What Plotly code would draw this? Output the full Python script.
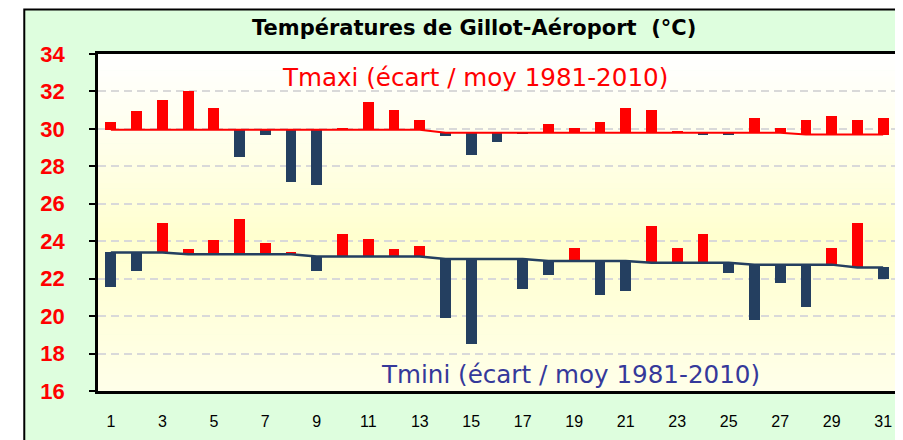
import plotly.graph_objects as go

days = list(range(1, 32))
tmax = [30.39, 30.93, 31.57, 32.0, 31.12, 28.52, 29.66, 27.15, 27.02, 30.05,
        31.46, 31.03, 30.48, 29.64, 28.63, 29.32, 29.73, 30.27, 30.05, 30.39,
        31.12, 31.02, 29.84, 29.66, 29.66, 30.59, 30.05, 30.48, 30.70, 30.48, 30.59]
norm_max = [29.95] * 13 + [29.8] * 14 + [29.7] * 4
tmin = [21.54, 22.40, 25.0, 23.61, 24.04, 25.21, 23.93, 23.45, 22.40, 24.36,
        24.14, 23.61, 23.72, 19.88, 18.49, 23.10, 21.43, 22.18, 23.66, 21.11,
        21.33, 24.79, 23.66, 24.36, 22.29, 19.78, 21.75, 20.47, 23.66, 25.0, 21.97]
norm_min = [23.4] * 3 + [23.3] * 5 + [23.18] * 5 + [23.05] * 4 + [22.95] * 4 + \
           [22.85] * 4 + [22.75] * 4 + [22.6] * 2
x_ticks = list(range(1, 32, 2))
y_ticks = list(range(16, 35, 2))

RED = "#FF0000"
BLUE = "#243F60"

def bar_colors(vals, norms):
    return [RED if v >= n else BLUE for v, n in zip(vals, norms)]

fig = go.Figure()
fig.add_bar(x=days, y=[v - n for v, n in zip(tmax, norm_max)], base=norm_max,
            width=0.42, marker=dict(color=bar_colors(tmax, norm_max), line_width=0),
            showlegend=False)
fig.add_bar(x=days, y=[v - n for v, n in zip(tmin, norm_min)], base=norm_min,
            width=0.42, marker=dict(color=bar_colors(tmin, norm_min), line_width=0),
            showlegend=False)
fig.add_scatter(x=days, y=norm_max, mode="lines", line=dict(color=RED, width=2),
                showlegend=False)
fig.add_scatter(x=days, y=norm_min, mode="lines", line=dict(color=BLUE, width=2.5),
                showlegend=False)

# page body has an 8px margin: lay out the figure shifted accordingly
OFF = 8
FW, FH = 903 - OFF, 440 - OFF
L, R, T, B = 98, 899, 54, 391
W, H = R - L, B - T

def px(x):
    return (x - L) / W

def py(y):
    return (B - y) / H

shapes = [dict(type="rect", xref="paper", yref="paper",
               x0=px(24), x1=px(912), y0=py(455), y1=py(9.5),
               fillcolor="#DEFEDE", line=dict(color="black", width=2), layer="below")]

# vertical gradient for plot area
stops = [(0.0, (255, 255, 234)), (0.45, (255, 255, 206)), (0.75, (255, 255, 236)), (1.0, (255, 255, 255))]
n = 60
for i in range(n):
    f = (i + 0.5) / n
    for j in range(len(stops) - 1):
        if stops[j][0] <= f <= stops[j + 1][0]:
            a, ca = stops[j]
            b, cb = stops[j + 1]
            t = (f - a) / (b - a)
            c = tuple(round(ca[k] + (cb[k] - ca[k]) * t) for k in range(3))
            break
    shapes.append(dict(type="rect", xref="paper", yref="paper", x0=0, x1=1,
                       y0=i / n, y1=(i + 1) / n + 0.002,
                       fillcolor="rgb(%d,%d,%d)" % c, line=dict(width=0), layer="below"))
# right shadow
shapes.append(dict(type="line", xref="paper", yref="paper", x0=px(901), x1=px(901),
                   y0=py(389), y1=py(56), line=dict(color="#888888", width=2)))

annotations = [
    dict(text="Températures de Gillot-Aéroport  (°C)", xref="paper", yref="paper",
         x=px(475), y=py(28), xanchor="center", yanchor="middle", showarrow=False,
         font=dict(family="DejaVu Sans", size=21, color="black", weight="bold")),
    dict(text="Tmaxi (écart / moy 1981-2010)", xref="paper", yref="paper",
         x=px(476), y=py(77), xanchor="center", yanchor="middle", showarrow=False,
         font=dict(family="DejaVu Sans", size=24.6, color=RED)),
    dict(text="Tmini (écart / moy 1981-2010)", xref="paper", yref="paper",
         x=px(572), y=py(374), xanchor="center", yanchor="middle", showarrow=False,
         font=dict(family="DejaVu Sans", size=24.6, color="#35399A")),
]

fig.update_layout(
    width=FW, height=FH,
    margin=dict(l=L - OFF, r=903 - R, t=T - OFF, b=440 - B),
    paper_bgcolor="white", plot_bgcolor="rgba(0,0,0,0)",
    barmode="overlay", bargap=0,
    shapes=shapes, annotations=annotations,
    xaxis=dict(range=[0.5, 31.5], tickvals=x_ticks, ticktext=[str(v) for v in x_ticks],
               showgrid=False, zeroline=False, showline=True, linecolor="black",
               linewidth=2.5, mirror=True, ticks="", ticklabelstandoff=14,
               tickfont=dict(family="Liberation Sans", size=16, color="black")),
    yaxis=dict(range=[16, 34], tickvals=y_ticks, showgrid=True, gridcolor="#D9D9D9",
               gridwidth=2, griddash="8px,5px", zeroline=False, showline=True,
               linecolor="black", linewidth=2.5, mirror=True, ticks="outside",
               ticklen=6, tickwidth=2, tickcolor="black", ticklabelstandoff=20,
               tickfont=dict(family="Liberation Sans", size=22, color=RED, weight="bold")),
)

fig.write_html("out.html")
